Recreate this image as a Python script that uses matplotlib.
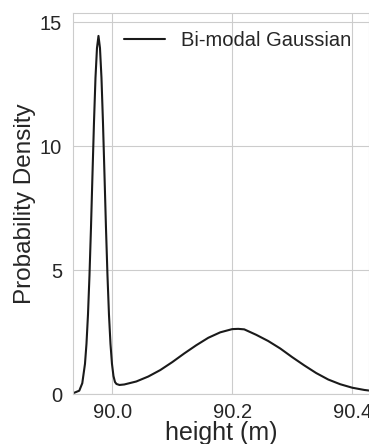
import numpy as np
import matplotlib
matplotlib.use("Agg")
import matplotlib.pyplot as plt
import seaborn as sns

# density curve
height = [89.935, 89.945, 89.950, 89.9545, 89.957, 89.9595, 89.962, 89.9645,
          89.967, 89.9695, 89.972, 89.9745, 89.977, 89.9795, 89.982, 89.9845,
          89.987, 89.9895, 89.992, 89.9945, 89.997, 89.9995, 90.002, 90.0045,
          90.007, 90.012, 90.02, 90.04, 90.06, 90.08, 90.10, 90.12, 90.14,
          90.16, 90.18, 90.20, 90.21, 90.22, 90.24, 90.26, 90.28, 90.30,
          90.32, 90.34, 90.36, 90.38, 90.40, 90.42, 90.43]
density = [0.05, 0.15, 0.45, 1.23, 2.04, 3.21, 4.79, 6.71,
           8.86, 10.95, 12.75, 13.95, 14.44, 13.95, 12.75, 10.95,
           8.86, 6.71, 4.79, 3.21, 2.04, 1.23, 0.74, 0.50,
           0.42, 0.38, 0.40, 0.52, 0.72, 0.98, 1.30, 1.65, 1.98,
           2.28, 2.50, 2.63, 2.64, 2.62, 2.40, 2.15, 1.85, 1.50,
           1.17, 0.86, 0.60, 0.41, 0.27, 0.18, 0.15]
label = "Bi-modal Gaussian"

sns.set_style("whitegrid")
plt.rcParams["font.family"] = ["Liberation Sans", "DejaVu Sans"]

fig = plt.figure(figsize=(3.69, 4.44), dpi=100)
ax = fig.add_axes([0.1986, 0.1117, 0.8014, 0.8583])

ax.plot(height, density, color="#1a1a1a", lw=1.5, label=label)

ax.set_xlim(89.935, 90.428)
ax.set_ylim(0, 15.35)
ax.set_xticks([90.0, 90.2, 90.4])
ax.set_yticks([0, 5, 10, 15])
ax.set_xticklabels(["90.0", "90.2", "90.4"])
ax.tick_params(axis="x", labelsize=14.5, pad=6, length=0)
ax.tick_params(axis="y", labelsize=14.5, pad=8, length=0)

ax.set_xlabel("height (m)", fontsize=18, labelpad=-0.5)
ax.set_ylabel("Probability Density", fontsize=17.5, labelpad=3)

ax.legend(loc="upper right", fontsize=14.5, frameon=False)

fig.savefig("out.png", dpi=100)
